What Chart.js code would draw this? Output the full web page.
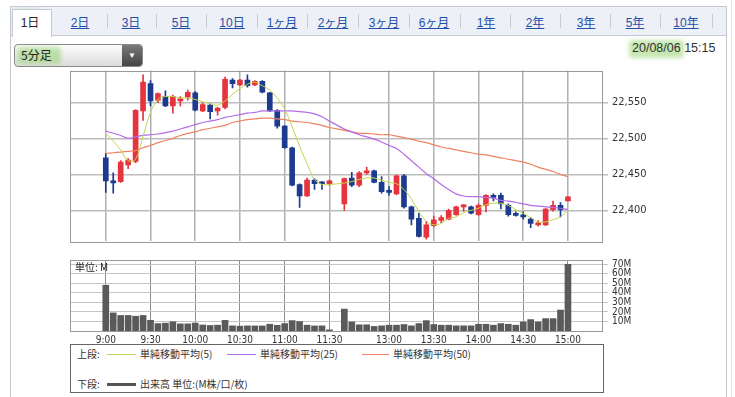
<!DOCTYPE html>
<html>
<head>
<meta charset="utf-8">
<script src="https://cdn.jsdelivr.net/npm/chart.js@4.4.0/dist/chart.umd.min.js"></script>
<style>
  body { margin: 0; width: 735px; height: 397px; overflow: hidden; background: #fff; position: relative;
         font-family: "Liberation Sans", "Noto Sans CJK JP", sans-serif; color: #333; }
  .abs { position: absolute; }
  #tabbar { left: 10px; top: 6px; width: 715px; height: 28px; background: #eef0f7; border: 1px solid #c5c9d6; }
  #seltab { left: 12px; top: 9px; width: 38px; height: 27px; background: #fff; border: 1px solid #c5c9d6; border-bottom: none; }
  .tab { top: 13px; font-size: 12px; color: #1f4fa8; text-decoration: underline; transform: translateX(-50%); white-space: nowrap;
         font-family: "Liberation Sans", "Noto Sans CJK JP", sans-serif; }
  .sep { top: 14px; width: 1px; height: 14px; background: #c9cbd4; }
  .hl { background: rgba(150, 210, 110, 0.55); filter: blur(2px); border-radius: 4px; }
  #frameL { left: 10px; top: 35px; width: 1px; height: 362px; background: #c8c8c8; }
  #frameR { left: 726px; top: 35px; width: 1px; height: 362px; background: #c8c8c8; }
  #frameR2 { left: 731px; top: 0px; width: 1px; height: 397px; background: #e4e4e4; }
  #dd { left: 14px; top: 44px; width: 127px; height: 21px; border: 1px solid #8a8a8a; border-radius: 4px;
        background: linear-gradient(#fdfdfd, #dcdcdc); overflow: hidden; }
  #ddtxt { left: 6px; top: 3px; font-size: 12px; color: #222; font-family: "Noto Sans CJK JP", sans-serif; line-height: 14px; }
  #ddbtn { right: 0; top: 0; width: 20px; height: 21px; background: linear-gradient(#7a7a7a, #444); color: #fff;
           font-size: 8px; text-align: center; line-height: 21px; }
  #date { left: 632px; top: 41px; font-size: 12.5px; color: #333; }
  canvas { position: absolute; left: 0; }
  #unit { left: 75px; top: 259px; font-size: 10px; color: #222; font-family: "Noto Sans CJK JP", sans-serif; }
  #legend { left: 70px; top: 344px; width: 532px; height: 47px; border: 1px solid #666; background: #fff; }
  .lg { font-size: 10px; color: #333; font-family: "Noto Sans CJK JP", sans-serif; white-space: nowrap; line-height: 12px; }
  .ln { height: 1px; }
</style>
</head>
<body>
<div id="tabbar" class="abs"></div>
<div class="abs hl" style="left:14px;top:10px;width:28px;height:20px;"></div>
<div id="seltab" class="abs"></div>
<div class="abs tab" style="left:30px;color:#222;text-decoration:none;">1日</div>
<div class="abs tab" style="left:80px;">2日</div>
<div class="abs tab" style="left:131px;">3日</div>
<div class="abs tab" style="left:181px;">5日</div>
<div class="abs tab" style="left:232px;">10日</div>
<div class="abs tab" style="left:282px;">1ヶ月</div>
<div class="abs tab" style="left:333px;">2ヶ月</div>
<div class="abs tab" style="left:384px;">3ヶ月</div>
<div class="abs tab" style="left:434px;">6ヶ月</div>
<div class="abs tab" style="left:486px;">1年</div>
<div class="abs tab" style="left:535px;">2年</div>
<div class="abs tab" style="left:586px;">3年</div>
<div class="abs tab" style="left:635px;">5年</div>
<div class="abs tab" style="left:686px;">10年</div>
<div class="abs sep" style="left:107px;"></div>
<div class="abs sep" style="left:156px;"></div>
<div class="abs sep" style="left:206px;"></div>
<div class="abs sep" style="left:257px;"></div>
<div class="abs sep" style="left:307px;"></div>
<div class="abs sep" style="left:358px;"></div>
<div class="abs sep" style="left:409px;"></div>
<div class="abs sep" style="left:460px;"></div>
<div class="abs sep" style="left:510px;"></div>
<div class="abs sep" style="left:560px;"></div>
<div class="abs sep" style="left:610px;"></div>
<div class="abs sep" style="left:660px;"></div>
<div class="abs sep" style="left:712px;"></div>
<div id="frameL" class="abs"></div>
<div id="frameR" class="abs"></div>
<div id="frameR2" class="abs"></div>

<div id="dd" class="abs">
  <div class="abs hl" style="left:2px;top:2px;width:44px;height:17px;"></div>
  <div id="ddtxt" class="abs">5分足</div>
  <div id="ddbtn" class="abs">▼</div>
</div>
<div class="abs hl" style="left:629px;top:40px;width:55px;height:18px;"></div>
<div id="date" class="abs">20/08/06 15:15</div>

<canvas id="price" width="735" height="192" style="top:60px;"></canvas>
<canvas id="volume" width="735" height="100" style="top:250px;"></canvas>
<div id="unit" class="abs">単位: M</div>

<div id="legend" class="abs">
  <div class="abs lg" style="left:6px;top:3px;">上段:</div>
  <div class="abs ln" style="left:36px;top:9px;width:29px;background:#c2d44a;"></div>
  <div class="abs lg" style="left:69px;top:3px;">単純移動平均(5)</div>
  <div class="abs ln" style="left:156px;top:9px;width:29px;background:#b46be8;"></div>
  <div class="abs lg" style="left:189px;top:3px;">単純移動平均(25)</div>
  <div class="abs ln" style="left:291px;top:9px;width:27px;background:#ef8262;"></div>
  <div class="abs lg" style="left:322px;top:3px;">単純移動平均(50)</div>
  <div class="abs lg" style="left:6px;top:33px;">下段:</div>
  <div class="abs" style="left:36px;top:38px;width:29px;height:3px;background:#555;"></div>
  <div class="abs lg" style="left:69px;top:33px;">出来高 単位:(M株/口/枚)</div>
</div>

<script>
// 5-minute slots: 0 = 9:00 ... 30 = 11:30, 31 = lunch gap, 32 = 12:30 ... 62 = 15:00
var tickSlots = [0, 6, 12, 18, 24, 30, 38, 44, 50, 56, 62];
var tickLabels = ['9:00', '9:30', '10:00', '10:30', '11:00', '11:30', '13:00', '13:30', '14:00', '14:30', '15:00'];
var priceTicks = [22400, 22450, 22500, 22550];
var volumeTicks = [10, 20, 30, 40, 50, 60, 70];

var opens = [22473,22441,22440,22463,22468,22538,22576,22553,22558,22545,22552,22557,22563,22538,22546,22538,22543,22581,22574,22581,22574,22579,22563,22539,22517,22487,22436,22420,22442,22439,22437,null,
  22409,22445,22435,22452,22455,22439,22427,22423,22448,22405,22389,22363,22379,22386,22388,22394,22405,22405,22394,22407,22421,22421,22407,22396,22394,22388,22380,22380,22401,22407,22413];
var highs = [22479,22452,22469,22472,22540,22588,22580,22563,22566,22560,22558,22567,22565,22549,22548,22543,22585,22583,22582,22588,22580,22580,22564,22540,22518,22488,22437,22445,22444,22440,22442,null,
  22445,22453,22454,22460,22456,22447,22433,22449,22450,22406,22396,22385,22392,22393,22402,22406,22408,22406,22409,22422,22423,22424,22409,22398,22398,22390,22386,22403,22413,22411,22419];
var lows = [22425,22424,22439,22458,22466,22525,22545,22550,22544,22535,22545,22553,22538,22537,22527,22532,22541,22570,22573,22571,22573,22563,22537,22514,22486,22434,22404,22419,22429,22429,22435,null,
  22400,22433,22433,22450,22438,22424,22421,22422,22403,22380,22363,22360,22377,22383,22387,22393,22399,22395,22393,22398,22413,22402,22392,22392,22388,22376,22378,22379,22399,22391,22413];
var closes = [22441,22438,22467,22470,22539,22578,22552,22562,22545,22558,22554,22564,22539,22547,22537,22542,22582,22576,22581,22573,22579,22564,22538,22517,22487,22435,22420,22442,22437,22437,22441,null,
  22444,22435,22452,22455,22439,22426,22425,22448,22405,22388,22364,22380,22387,22390,22400,22405,22407,22396,22407,22421,22418,22409,22394,22393,22391,22382,22382,22402,22407,22401,22419];

var ma5 = [22507,22496,22484,22469,22471,22503,22536,22554,22558,22558,22556,22556,22554,22551,22548,22546,22552,22561,22569,22575,22578,22573,22567,22556,22541,22516,22489,22465,22443,22436,22436,null,
  22438,22440,22443,22445,22445,22442,22439,22437,22429,22416,22398,22385,22380,22382,22389,22391,22397,22400,22403,22408,22410,22410,22407,22401,22396,22390,22384,22384,22387,22391,22400];
var ma25 = [22510,22507,22504,22500,22502,22504,22505,22506,22508,22510,22513,22516,22519,22522,22524,22526,22529,22531,22533,22535,22536,22538,22538,22538,22538,22538,22537,22536,22534,22530,22524,null,
  22513,22509,22505,22502,22499,22495,22490,22486,22478,22469,22460,22451,22444,22436,22429,22423,22420,22419,22419,22418,22417,22414,22413,22411,22409,22407,22406,22405,22404,22403,22401];
var ma50 = [22479,22480,22481,22482,22483,22487,22490,22494,22497,22500,22504,22507,22509,22512,22514,22516,22518,22522,22524,22526,22527,22528,22528,22527,22526,22524,22523,22522,22520,22518,22515,null,
  22511,22509,22507,22507,22506,22505,22505,22503,22501,22499,22496,22494,22491,22488,22486,22484,22482,22480,22478,22477,22475,22473,22471,22469,22467,22464,22460,22457,22454,22450,22447];

var volume = [48,19,16.3,16.3,15.5,16.3,11.2,7.8,8.2,9.7,7.5,7.5,8.3,6.3,5.8,6.1,11.2,5.4,5.1,5.4,5.3,5.3,7.1,6.0,7.8,10.9,9.9,6.1,5.3,5.4,1.2,null,
  23,9.5,6.5,6.5,4.8,5.4,6.1,6.1,6.8,5.4,7.8,10.9,6.8,6.1,6.1,5.4,5.4,5.4,7.1,7.1,6.1,7.8,7.1,6.1,9.5,12,9.5,13,13,22,70];

var UP = '#e6343f', DOWN = '#1c3b8e';
var FONT = "'DejaVu Sans Condensed','DejaVu Sans',sans-serif";
Chart.defaults.font.family = FONT;
Chart.defaults.color = '#333';
Chart.defaults.animation = false;

// helpers
function linePoints(arr) {
  return arr.map(function (v, i) { return { x: i, y: v }; });
}
function rangeBars(a, b) {
  var out = [];
  for (var i = 0; i < a.length; i++) {
    if (a[i] == null) continue;
    out.push({ x: i, y: [a[i], b[i]] });
  }
  return out;
}
var candleColors = [];
for (var i = 0; i < opens.length; i++) {
  if (opens[i] == null) continue;
  candleColors.push(closes[i] >= opens[i] ? UP : DOWN);
}

// draws plot area border
var frame = {
  id: 'frame',
  afterDraw: function (chart) {
    var a = chart.chartArea, g = chart.ctx;
    g.save();
    g.strokeStyle = '#999';
    g.lineWidth = 1;
    g.strokeRect(Math.round(a.left) + 0.5, Math.round(a.top) + 0.5, Math.round(a.right - a.left) - 1, Math.round(a.bottom - a.top));
    g.restore();
  }
};

var xMin = -4.8, xMax = 66.7;
function slotTicks(scale) {
  scale.ticks = tickSlots.map(function (v) { return { value: v }; });
}

// price chart
new Chart(document.getElementById('price'), {
  type: 'bar',
  data: {
    datasets: [
      { type: 'line', data: linePoints(ma5), borderColor: '#c2d44a', borderWidth: 1, pointRadius: 0, tension: 0.35, spanGaps: true, order: 0 },
      { type: 'line', data: linePoints(ma25), borderColor: '#b46be8', borderWidth: 1.2, pointRadius: 0, tension: 0.35, spanGaps: true, order: 0 },
      { type: 'line', data: linePoints(ma50), borderColor: '#ef8262', borderWidth: 1.2, pointRadius: 0, tension: 0.35, spanGaps: true, order: 0 },
      { data: rangeBars(lows, highs), backgroundColor: candleColors, barThickness: 1, grouped: false, order: 2 },
      { data: rangeBars(opens, closes), backgroundColor: candleColors, barThickness: 5, grouped: false, minBarLength: 2, order: 1 }
    ]
  },
  options: {
    responsive: false,
    devicePixelRatio: 1,
    layout: { padding: { left: 70, top: 10, right: 0, bottom: 5 } },
    plugins: { legend: { display: false }, tooltip: { enabled: false } },
    scales: {
      x: {
        type: 'linear', min: xMin, max: xMax, offset: false,
        afterBuildTicks: slotTicks,
        grid: { color: '#b0b0b0', lineWidth: 1.5, drawTicks: false, offset: false },
        border: { display: false },
        ticks: { display: false }
      },
      y: {
        position: 'right', min: 22357, max: 22594,
        afterBuildTicks: function (s) { s.ticks = priceTicks.map(function (v) { return { value: v }; }); },
        afterFit: function (s) { s.width = 132; },
        grid: { color: '#bdbdbd', lineWidth: 1.5, tickLength: 5 },
        border: { display: false },
        ticks: { padding: 4, font: { size: 11, family: FONT }, color: '#333',
                 callback: function (v) { return v.toLocaleString('en-US'); } }
      }
    }
  },
  plugins: [frame]
});

// volume chart
new Chart(document.getElementById('volume'), {
  type: 'bar',
  data: {
    datasets: [
      { data: linePoints(volume).filter(function (p) { return p.y != null; }), backgroundColor: '#5a5a5a', barThickness: 6 }
    ]
  },
  options: {
    responsive: false,
    devicePixelRatio: 1,
    layout: { padding: { left: 70, top: 8, right: 0, bottom: 0 } },
    plugins: { legend: { display: false }, tooltip: { enabled: false } },
    scales: {
      x: {
        type: 'linear', min: xMin, max: xMax, offset: false,
        afterBuildTicks: slotTicks,
        afterFit: function (s) { s.height = 19; },
        grid: { color: '#8e8e8e', lineWidth: 1, drawTicks: false, offset: false },
        border: { display: false },
        ticks: { autoSkip: false, maxRotation: 0, padding: 3, font: { size: 10, family: FONT }, color: '#333',
                 callback: function (v) { var k = tickSlots.indexOf(v); return k < 0 ? '' : tickLabels[k]; } }
      },
      y: {
        position: 'right', min: 0, max: 74.5,
        afterBuildTicks: function (s) { s.ticks = volumeTicks.map(function (v) { return { value: v }; }); },
        afterFit: function (s) { s.width = 132; },
        grid: { color: '#c4c4c4', lineWidth: 1, tickLength: 5 },
        border: { display: false },
        ticks: { autoSkip: false, padding: 4, font: { size: 10, family: FONT }, color: '#333',
                 callback: function (v) { return v + 'M'; } }
      }
    }
  },
  plugins: [frame]
});
</script>
</body>
</html>
